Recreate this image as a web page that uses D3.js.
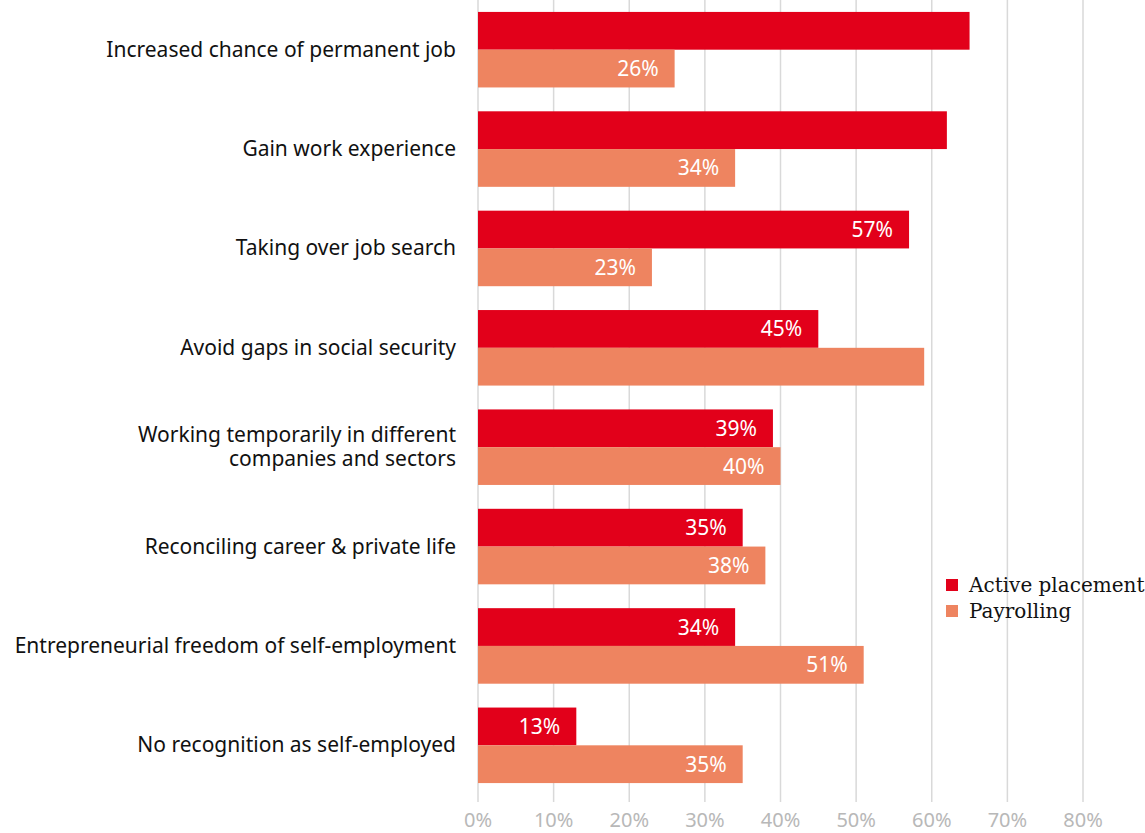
<!DOCTYPE html>
<html>
<head>
<meta charset="utf-8">
<script src="https://d3js.org/d3.v7.min.js"></script>
<style>
  body { margin: 0; background: #fff; }
</style>
</head>
<body>
<script>
const categories = [
  "Increased chance of permanent job",
  "Gain work experience",
  "Taking over job search",
  "Avoid gaps in social security",
  "Working temporarily in different|companies and sectors",
  "Reconciling career & private life",
  "Entrepreneurial freedom of self-employment",
  "No recognition as self-employed"
];
const activePlacement = [65, 62, 57, 45, 39, 35, 34, 13];
const payrolling = [26, 34, 23, 59, 40, 38, 51, 35];
// labels that the original does not print
const hideActive = [true, true, false, false, false, false, false, false];
const hidePayroll = [false, false, false, true, false, false, false, false];
const ticks = [0, 10, 20, 30, 40, 50, 60, 70, 80];
const seriesNames = ["Active placement", "Payrolling"];
const colors = ["#e2001a", "#ee8460"];

const W = 1145, H = 833;
const svg = d3.select("body").append("svg")
  .attr("width", W).attr("height", H);

const x = d3.scaleLinear().domain([0, 80]).range([478, 1083]);
const y = d3.scaleBand().domain(d3.range(categories.length)).range([0, 795])
  .paddingInner(0.24).paddingOuter(0.12);

// gridlines
svg.append("g").selectAll("line")
  .data(ticks).enter().append("line")
  .attr("x1", d => x(d)).attr("x2", d => x(d))
  .attr("y1", 0).attr("y2", 802)
  .attr("stroke", "#d9d9d9").attr("stroke-width", 1.5);

// axis labels
svg.append("g").selectAll("text")
  .data(ticks).enter().append("text")
  .attr("x", d => x(d)).attr("y", 827)
  .attr("text-anchor", "middle")
  .attr("font-family", "Noto Sans, sans-serif")
  .attr("font-size", 20)
  .attr("fill", "#b8b8b8")
  .text(d => d + "%");

const half = y.bandwidth() / 2;

categories.forEach((c, i) => {
  const g = svg.append("g").attr("transform", "translate(0," + y(i) + ")");
  const rows = [
    {v: activePlacement[i], hide: hideActive[i], col: colors[0], top: 0},
    {v: payrolling[i], hide: hidePayroll[i], col: colors[1], top: half}
  ];
  rows.forEach(r => {
    g.append("rect")
      .attr("x", x(0)).attr("y", r.top)
      .attr("width", x(r.v) - x(0))
      .attr("height", half)
      .attr("fill", r.col);
    if (!r.hide) {
      g.append("text")
        .attr("x", x(r.v) - 16)
        .attr("y", r.top + half / 2 + 7.5)
        .attr("text-anchor", "end")
        .attr("font-family", "Noto Sans, sans-serif")
        .attr("font-size", 21).attr("fill", "#fff")
        .text(r.v + "%");
    }
  });

  // category label
  const lines = c.split("|");
  const t = g.append("text")
    .attr("text-anchor", "end")
    .attr("font-family", "Noto Sans, sans-serif")
    .attr("font-size", 21)
    .attr("fill", "#111");
  lines.forEach((l, k) => {
    t.append("tspan")
      .attr("x", 456)
      .attr("y", half + 7 + (k - (lines.length - 1) / 2) * 24)
      .text(l);
  });
});

// legend
const lg = svg.append("g").attr("transform", "translate(946,579)");
seriesNames.forEach((s, i) => {
  lg.append("rect").attr("x", 0).attr("y", i * 26)
    .attr("width", 12).attr("height", 12).attr("fill", colors[i]);
  lg.append("text").attr("x", 23).attr("y", i * 26 + 13)
    .attr("font-family", "DejaVu Serif, serif")
    .attr("font-size", 20).attr("fill", "#111")
    .text(s);
});
</script>
</body>
</html>
